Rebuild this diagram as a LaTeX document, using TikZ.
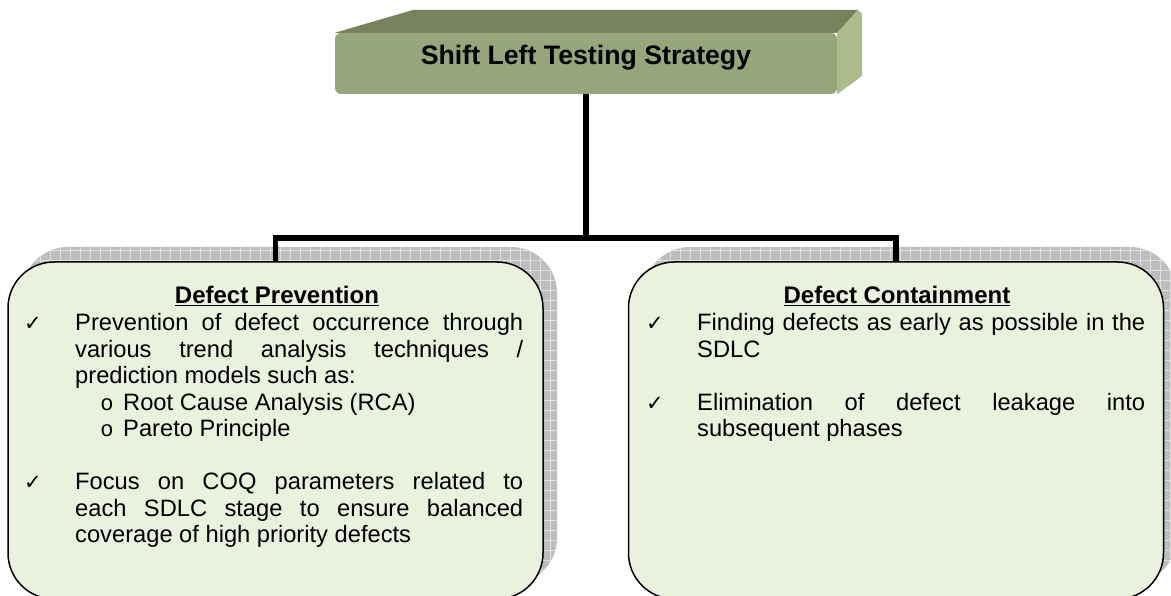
\documentclass[tikz,border=0pt]{standalone}
\usepackage{fontspec}
\setmainfont{Liberation Sans}
\newfontfamily\symfont{DejaVu Sans}
\newfontfamily\bulfont{Liberation Mono}
\definecolor{boxfill}{HTML}{EAF1DD}
\definecolor{frontc}{HTML}{97A67A}
\definecolor{topc}{HTML}{76825B}
\definecolor{sidec}{HTML}{ABBB8B}
\definecolor{shadowc}{HTML}{BDBDBD}
\definecolor{gridc}{HTML}{E0E0E0}
\begin{document}
\begin{tikzpicture}[x=1pt,y=-1pt,
  panel/.style={draw=black, line width=1.5pt, fill=boxfill, rounded corners=46pt,
    minimum width=535pt, minimum height=337pt, inner sep=0pt},
  shadowfill/.style={fill=shadowc, rounded corners=46pt},
  gridlines/.style={draw=gridc, line width=0.8pt},
  conn/.style={line width=5.5pt, draw=black},
  body/.style={anchor=base west, inner sep=0pt, font=\fontsize{23.7}{27}\selectfont},
  head/.style={anchor=base, inner sep=0pt, font=\fontsize{24}{27}\selectfont\bfseries},
  tick/.style={anchor=base, inner sep=0pt, font=\symfont\fontsize{21}{24}\selectfont},
  bul/.style={anchor=base, inner sep=0pt, font=\bulfont\fontsize{22}{24}\selectfont},
  titleface/.style={fill=frontc, rounded corners=6pt, minimum width=502pt, minimum height=61pt, inner sep=0pt},
  titletext/.style={anchor=base, inner sep=0pt, font=\fontsize{26.7}{30}\selectfont\bfseries}
]
\useasboundingbox (0,0) rectangle (1171,596);

% shadows
\fill[shadowfill] (22,247) rectangle (557,584);
\begin{scope}
  \clip[rounded corners=46pt] (22,247) rectangle (557,584);
  \draw[gridlines] (20,240) grid[step=10pt] (560,590);
\end{scope}
\fill[shadowfill] (644,247) rectangle (1176,584);
\begin{scope}
  \clip[rounded corners=46pt] (644,247) rectangle (1176,584);
  \draw[gridlines] (640,240) grid[step=10pt] (1180,590);
\end{scope}

% panels
\node[panel] (prev) at (275.5,430.5) {};
\node[panel] (cont) at (896,430.5) {};

% title slab
\node[titleface] (title) at (586,63.5) {};
\fill[topc] (title.north west) -- (413,10) -- (858,10) -- (title.north east) -- cycle;
\fill[sidec] (title.north east) -- (858,10) -- (862,14) -- (862,76) -- (title.south east) -- cycle;
\node[titletext] (tt) at (586,64.5) {Shift Left Testing Strategy};

% connectors
\coordinate (bar) at (586,238);
\draw[conn] (title.south) -- (title.south |- bar);
\draw[conn] (prev.north) |- (bar) -| (cont.north);

% left panel text
\node[head] (h1) at (277,304) {\underline{Defect Prevention}};
\node[tick] (t1) at (33,330.5) {✓};
\node[body] (l1) at (75,330.5) {\makebox[448pt][s]{Prevention of defect occurrence through}};
\node[body] (l2) at (75,357) {\makebox[448pt][s]{various trend analysis techniques /}};
\node[body] (l3) at (75,383.5) {prediction models such as:};
\node[bul] (b1) at (107,410) {o};
\node[body] (l4) at (123,410) {Root Cause Analysis (RCA)};
\node[bul] (b2) at (107,436.5) {o};
\node[body] (l5) at (123,436.5) {Pareto Principle};
\node[tick] (t2) at (33,489.5) {✓};
\node[body] (l6) at (75,489.5) {\makebox[448pt][s]{Focus on COQ parameters related to}};
\node[body] (l7) at (75,516) {\makebox[448pt][s]{each SDLC stage to ensure balanced}};
\node[body] (l8) at (75,542.5) {coverage of high priority defects};

% right panel text
\node[head] (h2) at (897,304) {\underline{Defect Containment}};
\node[tick] (t3) at (655,330.5) {✓};
\node[body] (r1) at (697,330.5) {\makebox[448pt][s]{Finding defects as early as possible in the}};
\node[body] (r2) at (697,357) {SDLC};
\node[tick] (t4) at (655,410) {✓};
\node[body] (r3) at (697,410) {\makebox[448pt][s]{Elimination of defect leakage into}};
\node[body] (r4) at (697,436.5) {subsequent phases};
\end{tikzpicture}
\end{document}
